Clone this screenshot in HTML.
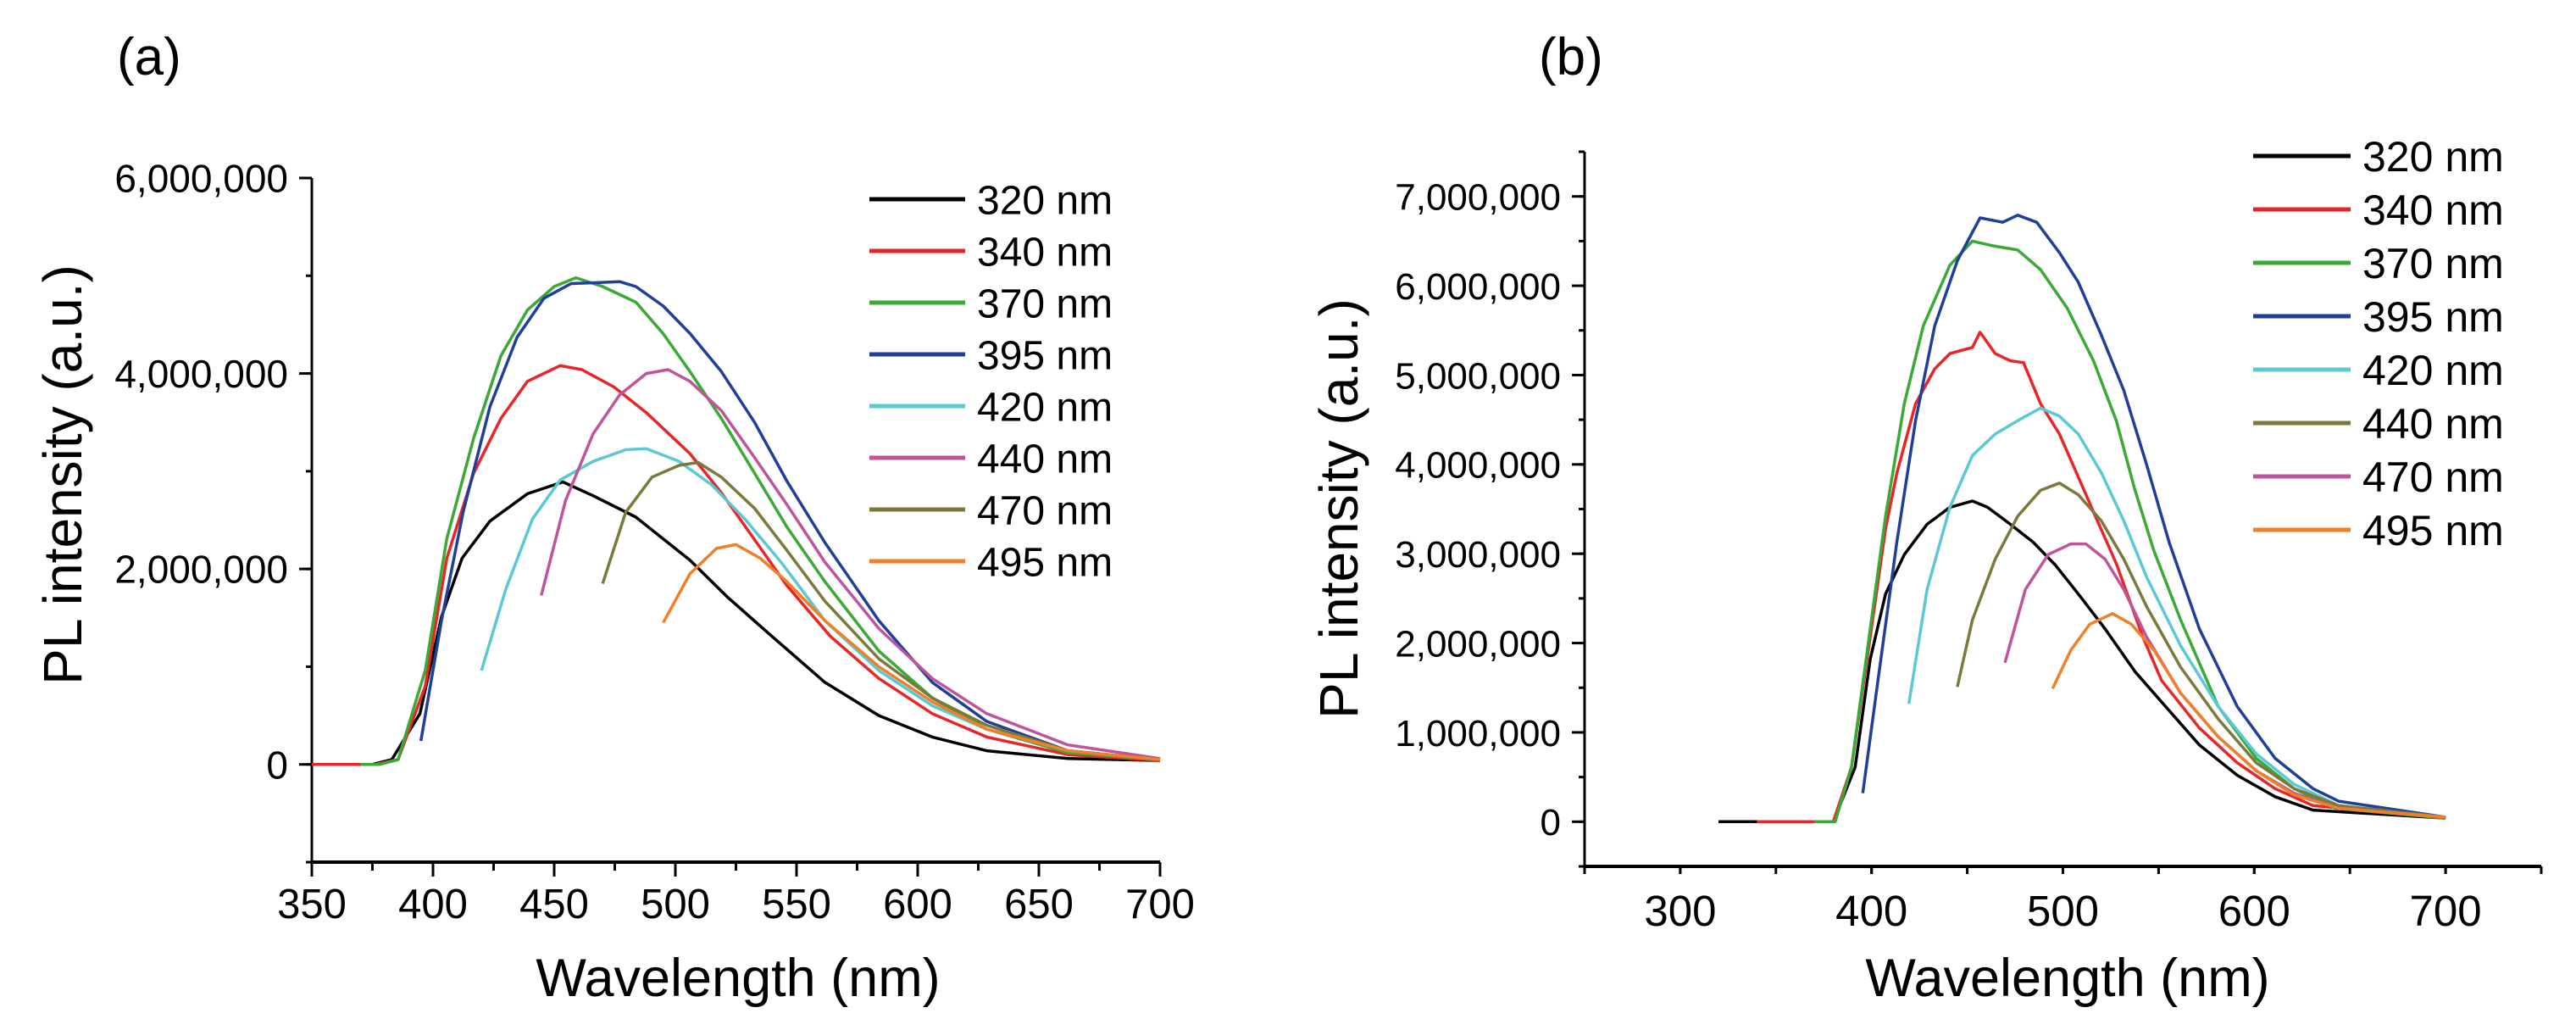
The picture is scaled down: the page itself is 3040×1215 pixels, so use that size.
<!DOCTYPE html>
<html><head><meta charset="utf-8"><style>
html,body{margin:0;padding:0;background:#fff;}
svg{display:block;font-family:"Liberation Sans",Arial,sans-serif;}
</style></head><body>
<svg id="fig" width="3040" height="1215" viewBox="0 0 3040 1215" xmlns="http://www.w3.org/2000/svg">
<rect width="3040" height="1215" fill="#fff"/>
<g id="pa"></g>
<g id="pb"></g>
</svg>
<script>
// ---------- Panel (a) data ----------
const aLabels = ["320 nm","340 nm","370 nm","395 nm","420 nm","440 nm","470 nm","495 nm"];
const aColors = ["#000000","#e8262a","#3aa935","#1f3f99","#5bc8d6","#c0549c","#7b7a3a","#f07f2a"];
const aXTicks = [350,400,450,500,550,600,650,700];
const aYTicks = [0,2,4,6];
const aYTickLabels = ["0","2,000,000","4,000,000","6,000,000"];
const a320w = [350,375,383,394.6,403.5,412,423.5,439,453.6,466,483.7,506,521.6,539.4,561.7,584,606,628.5,662,700];
const a320v = [0,0,0.05,0.52,1.51,2.11,2.49,2.77,2.89,2.75,2.53,2.09,1.71,1.32,0.84,0.5,0.28,0.14,0.06,0.04];
const a340w = [350,376,385.6,396.8,405.7,416.8,428,439,452.5,461.4,474.8,488,506,519,532.7,546,564,584,606,628.5,662,700];
const a340v = [0,0,0.05,0.8,2.11,2.98,3.54,3.92,4.08,4.04,3.86,3.6,3.18,2.78,2.3,1.83,1.31,0.88,0.52,0.28,0.1,0.04];
const a370w = [370,378,385.6,396.8,405.7,416.8,428,439,450,459,470,483.7,494.9,506,519,532.7,546,561.7,584,606,628.5,662,700];
const a370v = [0,0,0.05,0.96,2.31,3.34,4.18,4.65,4.89,4.98,4.89,4.73,4.41,4.02,3.54,2.98,2.43,1.87,1.16,0.68,0.36,0.12,0.05];
const a395w = [395,403.5,412.4,423.5,434.7,445.8,457,468,477,483.7,495,506,519,532.7,546,561.7,584,606,628.5,662,700];
const a395v = [0.24,1.47,2.58,3.66,4.37,4.77,4.92,4.93,4.94,4.89,4.69,4.41,4.02,3.5,2.9,2.27,1.47,0.84,0.44,0.14,0.05];
const a420w = [420,430,441,452.5,466,479.5,488,501.6,515,528.7,543.6,561.7,584,606,628.5,662,700];
const a420v = [0.96,1.79,2.51,2.91,3.1,3.22,3.23,3.1,2.86,2.51,2.07,1.47,0.96,0.6,0.36,0.14,0.05];
const a440w = [444.7,454.7,466,477,488,497,506,519,532.7,546,561.7,584,606,628.5,662,700];
const a440v = [1.73,2.7,3.38,3.78,4.0,4.04,3.92,3.62,3.14,2.66,2.07,1.39,0.88,0.52,0.2,0.06];
const a470w = [470,479.5,490.4,501.6,509.4,519,532.7,546,561.7,584,606,628.5,662,700];
const a470v = [1.85,2.58,2.94,3.06,3.09,2.94,2.62,2.19,1.67,1.08,0.68,0.4,0.14,0.05];
const a495w = [495,506,517,525,535,546,561.7,584,606,628.5,662,700];
const a495v = [1.45,1.95,2.21,2.25,2.11,1.87,1.47,1.0,0.64,0.36,0.14,0.05];
const aSeriesW = [a320w,a340w,a370w,a395w,a420w,a440w,a470w,a495w];
const aSeriesV = [a320v,a340v,a370v,a395v,a420v,a440v,a470v,a495v];

// ---------- Panel (b) data ----------
const bLabels = ["320 nm","340 nm","370 nm","395 nm","420 nm","440 nm","470 nm","495 nm"];
const bColors = ["#000000","#e8262a","#3aa935","#1f3f99","#5bc8d6","#7b7a3a","#c0549c","#f07f2a"];
const bXTicks = [300,400,500,600,700];
const bYTicks = [0,1,2,3,4,5,6,7];
const bYTickLabels = ["0","1,000,000","2,000,000","3,000,000","4,000,000","5,000,000","6,000,000","7,000,000"];
const b320w = [320,380,391.4,399.3,407.3,417.1,429,440.9,452.7,460.6,472.5,484.4,496.2,508,522,537.7,551.6,571.3,591.1,610.9,630.7,700];
const b320v = [0,0,0.61,1.82,2.55,2.99,3.33,3.52,3.59,3.52,3.33,3.13,2.87,2.55,2.16,1.68,1.34,0.86,0.52,0.28,0.13,0.04];
const b340w = [340,380,389.5,399.3,407.3,413.2,423,433,440.9,452.7,456.7,464.6,472.5,479.4,488.3,498.2,508,518,527.9,541.7,551.6,571.3,591.1,610.9,630.7,700];
const b340v = [0,0,0.61,2.07,3.28,3.9,4.68,5.07,5.24,5.31,5.48,5.24,5.16,5.14,4.68,4.34,3.86,3.37,2.89,2.07,1.58,1.05,0.66,0.37,0.18,0.04];
const b370w = [370,381,389.5,399.3,407.3,417.1,427,440.9,452.7,462.6,476.4,488.3,502.2,516,527.9,537.7,547.6,561.5,581.2,601,620.8,642.5,700];
const b370v = [0,0,0.61,2.16,3.42,4.68,5.55,6.23,6.5,6.45,6.4,6.18,5.75,5.16,4.49,3.71,3.03,2.26,1.29,0.71,0.37,0.15,0.04];
const b395w = [395.4,403.3,413.2,423,433,444.8,456.7,468.5,476.4,486.3,498.2,508,520,531.8,543.7,555.5,571.3,591.1,610.9,630.7,644.1,700];
const b395v = [0.32,1.58,3.13,4.49,5.55,6.28,6.76,6.71,6.79,6.71,6.37,6.04,5.45,4.83,4.0,3.13,2.16,1.29,0.71,0.37,0.23,0.05];
const b420w = [419.5,429,440.9,452.7,464.6,476.4,488.3,498.2,508,520,531.8,543.7,561.5,581.2,601,620.8,644.1,700];
const b420v = [1.32,2.6,3.52,4.1,4.34,4.49,4.63,4.54,4.34,3.91,3.37,2.74,1.97,1.29,0.76,0.42,0.18,0.05];
const b440w = [444.8,452.7,464.6,476.4,488.3,498.2,508,520,531.8,543.7,561.5,581.2,601,620.8,644.1,700];
const b440v = [1.51,2.26,2.94,3.42,3.71,3.79,3.66,3.37,2.94,2.41,1.73,1.15,0.66,0.37,0.18,0.05];
const b470w = [469.7,480.4,492.3,504.1,512,522,531.8,543.7,561.5,581.2,601,620.8,644.1,700];
const b470v = [1.78,2.6,2.99,3.11,3.11,2.94,2.6,2.07,1.44,0.95,0.57,0.32,0.15,0.05];
const b495w = [494.6,504.1,514,525.9,535.8,547.6,561.5,581.2,601,620.8,644.1,700];
const b495v = [1.49,1.92,2.21,2.33,2.21,1.92,1.44,0.95,0.57,0.3,0.15,0.05];
const bSeriesW = [b320w,b340w,b370w,b395w,b420w,b440w,b470w,b495w];
const bSeriesV = [b320v,b340v,b370v,b395v,b420v,b440v,b470v,b495v];

const NS = "http://www.w3.org/2000/svg";
function mk(parent, tag, attrs, text){
  const e = document.createElementNS(NS, tag);
  for (const k in attrs) e.setAttribute(k, attrs[k]);
  if (text !== undefined) e.textContent = text;
  parent.appendChild(e);
  return e;
}

function drawPanel(g, cfg){
  const sx = w => cfg.x0 + (w - cfg.xmin) * (cfg.x1 - cfg.x0) / (cfg.xmax - cfg.xmin);
  const sy = v => cfg.y0 - (v - cfg.ymin) * (cfg.y0 - cfg.y1) / (cfg.ymax - cfg.ymin);
  const axisBottom = sy(cfg.ymin), axisTop = sy(cfg.ymax);
  let el = mk(g,'line',{x1:cfg.x0,y1:axisTop,x2:cfg.x0,y2:axisBottom,stroke:'#000','stroke-width':3});
   
  el = mk(g,'line',{x1:cfg.x0,y1:axisBottom,x2:cfg.x1,y2:axisBottom,stroke:'#000','stroke-width':4});
   
  for (let w = cfg.xmin; w <= cfg.xmax + 0.01; w += cfg.xMinorStep){
    el = mk(g,'line',{x1:sx(w),y1:axisBottom,x2:sx(w),y2:axisBottom+cfg.xMinorLen,stroke:'#000','stroke-width':3});
     
  }
  cfg.xTicks.forEach(w => {
    el = mk(g,'line',{x1:sx(w),y1:axisBottom,x2:sx(w),y2:axisBottom+cfg.xMajorLen,stroke:'#000','stroke-width':3});
     
    el = mk(g,'text',{x:sx(w),y:cfg.xLabelY,'text-anchor':'middle','font-size':cfg.tickFont,fill:'#000'},String(w));
     
  });
  for (let v = cfg.ymin; v <= cfg.ymax + 0.01; v += cfg.yMinorStep){
    el = mk(g,'line',{x1:cfg.x0-7,y1:sy(v),x2:cfg.x0,y2:sy(v),stroke:'#000','stroke-width':3});
     
  }
  cfg.yTicks.forEach((v,i) => {
    el = mk(g,'line',{x1:cfg.x0-15,y1:sy(v),x2:cfg.x0,y2:sy(v),stroke:'#000','stroke-width':3});
     
    el = mk(g,'text',{x:cfg.yLabelRight,y:sy(v)+cfg.yTickFont*0.36,'text-anchor':'end','font-size':cfg.yTickFont,fill:'#000'},cfg.yTickLabels[i]);
     
  });
  cfg.sw.forEach((ws,i) => {
    const pts = ws.map((w,j) => sx(w).toFixed(1)+','+sy(cfg.sv[i][j]).toFixed(1)).join(' ');
    el = mk(g,'polyline',{points:pts,fill:'none',stroke:cfg.colors[i],'stroke-width':3.5,'stroke-linejoin':'round'});
    
    
  });
  cfg.labels.forEach((lab,i) => {
    const y = cfg.legY + i*cfg.legStep;
    const lg = mk(g,'g',{});
    
    
    mk(lg,'line',{x1:cfg.legX0,y1:y,x2:cfg.legX1,y2:y,stroke:cfg.colors[i],'stroke-width':5});
    mk(lg,'text',{x:cfg.legTX,y:y+cfg.legFont*0.36,'font-size':cfg.legFont,fill:'#000'},lab);
  });
  el = mk(g,'text',{x:cfg.xTitleX,y:1175,'text-anchor':'middle','font-size':63,fill:'#000'},'Wavelength (nm)');
   
  el = mk(g,'text',{x:0,y:0,'text-anchor':'middle','font-size':64,fill:'#000',transform:'translate('+cfg.yTitleX+','+cfg.yTitleY+') rotate(-90)'},'PL intensity (a.u.)');
   
  el = mk(g,'text',{x:cfg.panelX,y:88,'font-size':62,fill:'#000'},cfg.panelLabel);
   
}

drawPanel(document.getElementById('pa'), {
  x0:368, x1:1369, xmin:350, xmax:700, y0:1017, y1:210, ymin:-1, ymax:6,
  xTicks:aXTicks, xMinorStep:25, xMinorLen:10, xMajorLen:17, xLabelY:1083, tickFont:49,
  yTicks:aYTicks, yTickLabels:aYTickLabels, yMinorStep:1, yLabelRight:340, yTickFont:46,
  sw:aSeriesW, sv:aSeriesV, colors:aColors, labels:aLabels,
  legX0:1026, legX1:1139, legTX:1153, legY:235, legStep:61, legFont:48,
  xTitleX:871, yTitleX:96, yTitleY:560, panelX:138, panelLabel:'(a)'
});
drawPanel(document.getElementById('pb'), {
  x0:1870, x1:2999, xmin:250, xmax:750, y0:1022, y1:179, ymin:-0.5, ymax:7.5,
  xTicks:bXTicks, xMinorStep:50, xMinorLen:9, xMajorLen:9, xLabelY:1092, tickFont:51,
  yTicks:bYTicks, yTickLabels:bYTickLabels, yMinorStep:0.5, yLabelRight:1842, yTickFont:44,
  sw:bSeriesW, sv:bSeriesV, colors:bColors, labels:bLabels,
  legX0:2659, legX1:2774, legTX:2788, legY:184, legStep:63, legFont:50,
  xTitleX:2440, yTitleX:1602, yTitleY:600, panelX:1816, panelLabel:'(b)'
});
</script>
</body></html>
